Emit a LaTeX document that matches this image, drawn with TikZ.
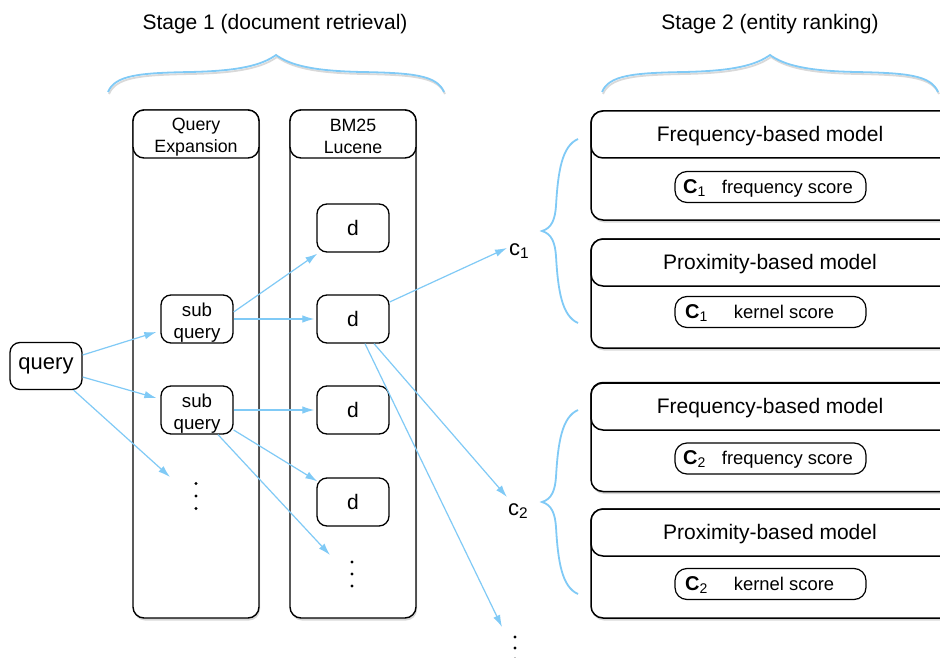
\documentclass[tikz,border=0pt]{standalone}
\usepackage{fontspec}
\setmainfont{Liberation Sans}
\usetikzlibrary{calc,shadows,arrows.meta}
\definecolor{lblue}{RGB}{128,202,246}
\newcommand\fzTitle{\fontsize{21}{25}\selectfont}
\newcommand\fzHdr{\fontsize{17.8}{22}\selectfont}
\newcommand\fzSub{\fontsize{18.7}{22}\selectfont}
\newcommand\fzPill{\fontsize{18.4}{22}\selectfont}
\newcommand\fzBig{\fontsize{22}{26}\selectfont}
\newcommand\fzC{\fontsize{20}{24}\selectfont}
\tikzset{
  box/.style={draw=black, line width=1.3pt, fill=white, rounded corners=11pt, inner sep=0pt, align=center},
  shadowed/.style={drop shadow={opacity=0.3, shadow xshift=1pt, shadow yshift=-2.5pt}},
  colbox/.style={box, line width=1.4pt, shadowed},
  hdrbox/.style={box, line width=1.4pt},
  smallbox/.style={box, rounded corners=10pt, minimum width=72pt},
  modelbox/.style={box, line width=1.5pt, rounded corners=12pt, minimum width=368pt, shadowed},
  modelhdr/.style={box, line width=1.5pt, rounded corners=12pt, minimum width=368pt, minimum height=47pt},
  pillbox/.style={box, line width=1.2pt, rounded corners=12pt, minimum width=191pt},
  txt/.style={inner sep=0pt, align=center},
  arr/.style={draw=lblue, line width=1.2pt, -{Latex[length=12pt, width=7.5pt]}},
  bline/.style={draw=lblue, line width=1.8pt},
  bshadow/.style={draw=black, opacity=0.15, line width=1.8pt},
}
\newcommand\hbracepath{(-168,37) .. controls (-161,20) and (-136,18) .. (-86,17) .. controls (-36,16) and (-14,10) .. (0,0) .. controls (14,10) and (36,16) .. (86,17) .. controls (136,18) and (161,20) .. (168,37)}
\newcommand\vbracepath{(36,-92) .. controls (20,-85) and (16,-60) .. (14,-25) .. controls (13,-12) and (10,-3) .. (0,0) .. controls (10,3) and (13,12) .. (14,25) .. controls (16,60) and (20,85) .. (36,92)}
\begin{document}
\begin{tikzpicture}[x=1pt, y=-1pt]
\useasboundingbox (0,0) rectangle (940,658);
\clip (0,0) rectangle (940,658);
\fill[white] (0,0) rectangle (940,658);

% titles
\node[txt, font=\fzTitle] (t1) at (275,24) {Stage 1 (document retrieval)};
\node[txt, font=\fzTitle] (t2) at (770,24) {Stage 2 (entity ranking)};

% horizontal braces
\draw[bshadow, shift={(277,57)}] \hbracepath;
\draw[bline, shift={(276,55)}] \hbracepath;
\draw[bshadow, shift={(771,57)}] \hbracepath;
\draw[bline, shift={(770,55)}] \hbracepath;

% vertical braces
\draw[bline, shift={(542,231)}] \vbracepath;
\draw[bline, shift={(542,502)}] \vbracepath;

% columns
\node[colbox, minimum width=126pt, minimum height=508pt] (qe) at (196,364) {};
\node[hdrbox, minimum width=126pt, minimum height=48pt] (qeh) at (196,134) {};
\node[txt, font=\fzHdr] (qet) at (196,137) {Query\\Expansion};
\node[colbox, minimum width=126pt, minimum height=508pt] (bm) at (353,364) {};
\node[hdrbox, minimum width=126pt, minimum height=48pt] (bmh) at (353,134) {};
\node[txt, font=\fzHdr] (bmt) at (353,136) {BM25\\Lucene};

% query and sub queries
\node[smallbox, minimum height=47pt, font=\fzBig] (q) at (46,366) {query};
\node[smallbox, minimum height=48pt] (sq1) at (197,319) {};
\node[txt, font=\fzSub] (sq1t) at (197,323) {sub\\query};
\node[smallbox, minimum height=48pt] (sq2) at (197,410) {};
\node[txt, font=\fzSub] (sq2t) at (197,414) {sub\\query};

% documents
\node[smallbox, minimum height=48pt, font=\fzTitle] (d1) at (353,228) {d};
\node[smallbox, minimum height=48pt, font=\fzTitle] (d2) at (353,319) {d};
\node[smallbox, minimum height=48pt, font=\fzTitle] (d3) at (353,410) {d};
\node[smallbox, minimum height=48pt, font=\fzTitle] (d4) at (353,502) {d};

% dots
\coordinate (qd) at (196,496);
\coordinate (dd) at (352,574);
\coordinate (bd) at (515,648);
\foreach \k in {-1,0,1} {
  \fill ($(qd)+(0,\k*12.5)$) circle (1.6);
  \fill ($(dd)+(0,\k*12)$) circle (1.6);
  \fill ($(bd)+(0,\k*11)$) circle (1.6);
}

% entity labels
\node[txt, anchor=base west, font=\fzBig] (c1) at (509,255) {c\textsubscript{1}};
\node[txt, anchor=base west, font=\fzBig] (c2) at (508,515) {c\textsubscript{2}};

% model boxes
\foreach \nm/\yc/\yh/\yp/\ttl in {
   A/165.5/134.5/187/Frequency-based model,
   B/293.5/262.5/312/Proximity-based model,
   C/437/406.5/458.5/Frequency-based model,
   D/563.5/532.5/584/Proximity-based model} {
  \node[modelbox, minimum height=109pt] (m\nm) at (775,\yc) {};
  \node[modelhdr] (m\nm h) at (775,\yh) {};
  \node[txt, font=\fzTitle] (m\nm t) at (770,\yh+1.5) {\ttl};
  \node[pillbox, minimum height=31pt] (p\nm) at (770.5,\yp) {};
}
\node[txt, anchor=west] (pAt) at (683,188) {{\fzC\textbf{C}\textsubscript{1}}\hspace{16pt}{\fzPill frequency score}};
\node[txt, anchor=west] (pBt) at (685,313) {{\fzC\textbf{C}\textsubscript{1}}\hspace{26pt}{\fzPill kernel score}};
\node[txt, anchor=west] (pCt) at (683,459.5) {{\fzC\textbf{C}\textsubscript{2}}\hspace{16pt}{\fzPill frequency score}};
\node[txt, anchor=west] (pDt) at (685,585) {{\fzC\textbf{C}\textsubscript{2}}\hspace{26pt}{\fzPill kernel score}};

% arrows
\draw[arr] ($(q.east)+(0,-11)$) -- ($(sq1.west)+(-4,13)$);
\draw[arr] ($(q.east)+(0,11)$) -- ($(sq2.west)+(-4,-12)$);
\draw[arr] ($(q.south east)+(-9,0)$) -- ($(qd)+(-26,-19)$);
\draw[arr] ($(sq1.east)+(0,-7)$) -- ($(d1.south west)+(1,1)$);
\draw[arr] (sq1.east) -- ($(d2.west)+(-2,0)$);
\draw[arr] (sq2.east) -- ($(d3.west)+(-2,0)$);
\draw[arr] ($(sq2.east)+(0,20)$) -- ($(d4.north west)+(1,4)$);
\draw[arr] ($(sq2.south)+(21,0)$) -- ($(dd)+(-22,-19)$);
\draw[arr] ($(d2.east)+(0,-17)$) -- ($(c1.base west)+(-2,-7)$);
\draw[arr] ($(d2.south)+(21,0)$) -- ($(c2.base west)+(-1,-18)$);
\draw[arr] ($(d2.south)+(12,0)$) -- ($(bd)+(-13,-21)$);
\end{tikzpicture}
\end{document}
